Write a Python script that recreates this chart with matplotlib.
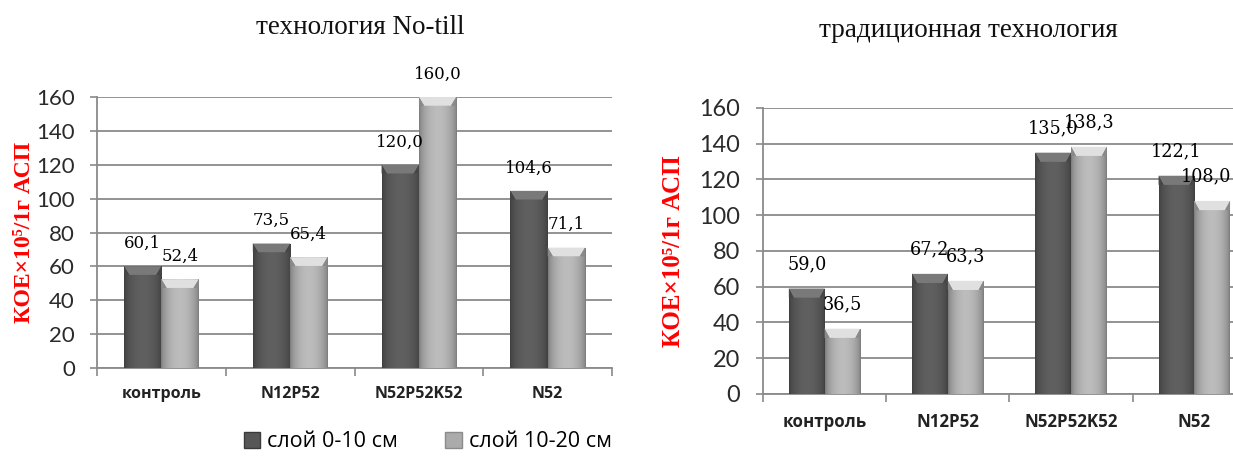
import numpy as np
import matplotlib
matplotlib.use("Agg")
import matplotlib.pyplot as plt
from matplotlib.patches import Polygon, Patch

# Data: colony forming units per 1 g of absolutely dry soil
categories = ["контроль", "N12P52", "N52P52K52", "N52"]
series_names = ["слой 0-10 см", "слой 10-20 см"]

notill_0_10 = [60.1, 73.5, 120.0, 104.6]
notill_10_20 = [52.4, 65.4, 160.0, 71.1]

trad_0_10 = [59.0, 67.2, 135.0, 122.1]
trad_10_20 = [36.5, 63.3, 138.3, 108.0]

yticks = [0, 20, 40, 60, 80, 100, 120, 140, 160]

DARK = "#575757"
LIGHT = "#ababab"
GRID = "#8a8a8a"
YLABEL = "КОЕ×10⁵/1г АСП"


def shade_bar(ax, patch, base, bevel_frac=0.032):
    """Horizontal cylinder-like gradient plus a light bevel on top."""
    x0, y0 = patch.get_xy()
    w, h = patch.get_width(), patch.get_height()
    rgb = np.array(matplotlib.colors.to_rgb(base))
    t = np.linspace(0, 1, 64)
    prof = 0.72 + 0.38 * np.sin(np.pi * t) ** 0.6
    img = np.clip(rgb[None, None, :] * prof[None, :, None], 0, 1)
    im = ax.imshow(img, extent=(x0, x0 + w, y0, y0 + h), aspect="auto",
                   interpolation="bilinear", zorder=patch.get_zorder() + 0.1)
    im.set_clip_path(patch)
    # bevel at the top of the bar: light trapezoid with darker side facets
    lo, hi = ax.get_ylim()
    bh = min(bevel_frac * (hi - lo), h)
    top = y0 + h
    inset = 0.14 * w
    z = patch.get_zorder() + 0.2
    lighter = np.clip(rgb * 1.22 + 0.06, 0, 1)
    ax.add_patch(Polygon([(x0, top), (x0 + w, top), (x0 + w - inset, top - bh),
                          (x0 + inset, top - bh)],
                         closed=True, facecolor=lighter, edgecolor="none", zorder=z))
    ax.add_patch(Polygon([(x0, top), (x0 + inset, top - bh), (x0, top - bh)],
                         closed=True, facecolor=rgb * 0.8, edgecolor="none", zorder=z))
    ax.add_patch(Polygon([(x0 + w, top), (x0 + w - inset, top - bh), (x0 + w, top - bh)],
                         closed=True, facecolor=rgb * 0.8, edgecolor="none", zorder=z))


def draw_panel(ax, s1, s2, scale=1.0):
    x = np.arange(len(categories))
    w = 0.29
    ax.set_xlim(-0.5, len(categories) - 0.5)
    ax.set_ylim(0, 160)
    b1 = ax.bar(x - w / 2, s1, w, color=DARK, zorder=3)
    b2 = ax.bar(x + w / 2, s2, w, color=LIGHT, zorder=3)
    for p in b1:
        shade_bar(ax, p, DARK)
    for p in b2:
        shade_bar(ax, p, LIGHT)

    labels = []
    for bars, vals in ((b1, s1), (b2, s2)):
        for p, v in zip(bars, vals):
            labels.append(ax.annotate(f"{v:.1f}".replace(".", ","),
                                      (p.get_x() + p.get_width() / 2, v),
                                      xytext=(0, 16.5 * scale), textcoords="offset points",
                                      ha="center", va="center", family="DejaVu Serif",
                                      fontsize=12 * scale, color="black",
                                      annotation_clip=False, zorder=6))

    ax.set_yticks(yticks)
    ax.set_yticklabels([str(v) for v in yticks], family="Lato",
                       fontsize=16 * scale, color="#2a2a2a")
    ax.yaxis.grid(True, color=GRID, linewidth=1.3, zorder=0)
    ax.set_axisbelow(True)
    ax.tick_params(axis="y", length=5, width=1.2, color=GRID,
                   pad=11 * scale)

    ax.set_xticks(x)
    ax.set_xticklabels(categories, family="Open Sans", fontweight="bold",
                       fontsize=11.5 * scale, color="#222222")
    ax.set_xticks(np.arange(-0.5, len(categories)), minor=True)
    ax.tick_params(axis="x", which="major", length=0, pad=13 * scale)
    ax.tick_params(axis="x", which="minor", length=6, width=1.2,
                   color=GRID, direction="out")

    for side in ("top", "right"):
        ax.spines[side].set_visible(False)
    for side in ("left", "bottom"):
        ax.spines[side].set_color(GRID)
        ax.spines[side].set_linewidth(1.3)
    return labels


fig = plt.figure(figsize=(12.33, 4.57), dpi=100)

ax1 = fig.add_axes([0.0787, 0.1947, 0.4177, 0.593])
labels1 = draw_panel(ax1, notill_0_10, notill_10_20, scale=1.0)

ax2 = fig.add_axes([0.6188, 0.1379, 0.3998, 0.6258])
labels2 = draw_panel(ax2, trad_0_10, trad_10_20, scale=1.06)

# panel titles
fig.text(0.292, 0.939, "технология No-till", ha="center", va="center",
         family="Liberation Serif", fontsize=19.5, color="#111111")
fig.text(0.785, 0.934, "традиционная технология", ha="center", va="center",
         family="Liberation Serif", fontsize=19.5, color="#111111")

# y-axis titles
fig.text(0.0195, 0.492, YLABEL, rotation=90, ha="center", va="center",
         family=["Liberation Serif", "DejaVu Serif"], fontweight="bold",
         fontsize=17, color="#ff0000")
fig.text(0.5465, 0.451, YLABEL, rotation=90, ha="center", va="center",
         family=["Liberation Serif", "DejaVu Serif"], fontweight="bold",
         fontsize=18, color="#ff0000")

handles = [Patch(facecolor=DARK, edgecolor="#3a3a3a"),
           Patch(facecolor=LIGHT, edgecolor="#8a8a8a")]
fig.legend(handles, series_names, loc="center", bbox_to_anchor=(0.347, 0.033),
           ncol=2, frameon=False, handlelength=0.75, handleheight=0.75,
           handletextpad=0.35, columnspacing=2.2,
           prop={"family": "Open Sans", "size": 15.5})

# keep value labels inside the figure on the right edge
fig.canvas.draw()
renderer = fig.canvas.get_renderer()
fig_w = fig.bbox.width
for ann in labels1 + labels2:
    bb = ann.get_window_extent(renderer)
    if bb.x1 > fig_w - 2:
        dx = (bb.x1 - (fig_w - 2)) * 72.0 / fig.dpi
        ox, oy = ann.xyann
        ann.xyann = (ox - dx, oy)

fig.savefig("out.png", dpi=100, facecolor="white")
